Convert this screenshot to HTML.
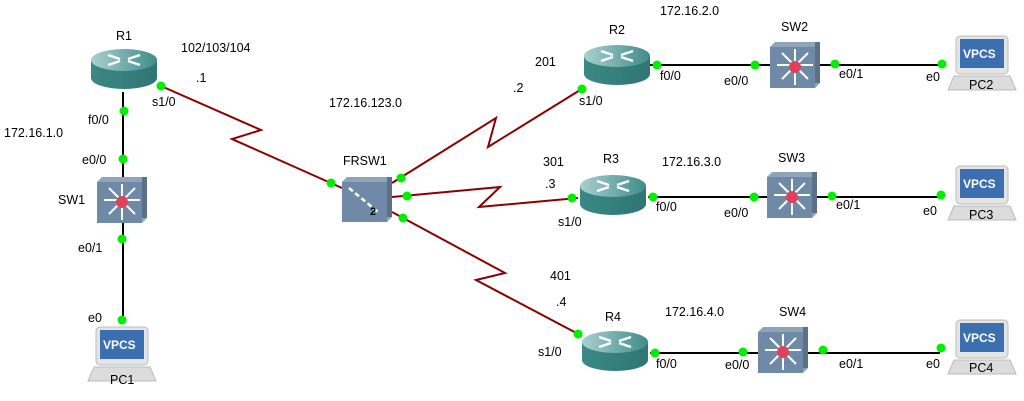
<!DOCTYPE html>
<html><head><meta charset="utf-8"><style>
html,body{margin:0;padding:0;background:#fff;}
svg{display:block;}
text{font-family:"Liberation Sans",sans-serif;font-size:12.5px;fill:#000;}
</style></head><body>
<svg width="1024" height="401" viewBox="0 0 1024 401" xmlns="http://www.w3.org/2000/svg">
<defs>
<linearGradient id="rt" x1="0" y1="0" x2="1" y2="0"><stop offset="0" stop-color="#a9d0cf"/><stop offset="1" stop-color="#3f8c89"/></linearGradient>
<linearGradient id="rb" x1="0" y1="0" x2="1" y2="0"><stop offset="0" stop-color="#3b8885"/><stop offset="1" stop-color="#2f7573"/></linearGradient>
<g id="router">
<path d="M-33,-8 L-33,10 A33,11 0 0 0 33,10 L33,-8 Z" fill="url(#rb)"/>
<ellipse cx="0" cy="-8" rx="33" ry="11" fill="url(#rt)"/>
<g stroke="#fff" stroke-width="2.5" fill="none"><path d="M-16,-13 L-4,-9 M16,-3 L4,-7 M16,-13 L4,-9 M-16,-3 L-4,-7"/></g>
</g>
<g id="switch">
<path d="M-25,-18 L-20,-23 L25,-23 L25,18 L20,23 Z" fill="#8fa4b8"/>
<rect x="-25" y="-18" width="45" height="41" fill="#6f8aa6"/>
<rect x="20" y="-23" width="5" height="41" fill="#5a7189"/>
<g stroke="#fff" stroke-width="2"><path d="M-18,0 H18 M0,-16 V20 M-13,-12 L13,14 M13,-12 L-13,14"/></g>
<circle cx="0" cy="2" r="6" fill="#e0405a"/>
</g>
<g id="pc">
<rect x="-28" y="-28" width="52" height="38" rx="4" fill="#e4e4e4" stroke="#bbb"/>
<rect x="-24" y="-25" width="44" height="29" fill="#3b6fb0"/>
<text x="-21" y="-6" style="fill:#fff;font-weight:bold;font-size:12px">VPCS</text>
<path d="M-30,12 L26,12 L32,26 L-36,26 Z" fill="#dcdcdc" stroke="#bbb"/>
</g>
</defs>
<!-- links -->
<g stroke="#000" stroke-width="2" fill="none">
<path d="M123,92 V320"/>
<path d="M650,65 H940"/>
<path d="M648,197 H940"/>
<path d="M650,353 H940"/>
</g>
<g stroke="#8b0000" stroke-width="2" fill="none">
<path d="M161,86 L261,130 L232,139 L342,188"/>
<path d="M392,183 L496,118 L488,147 L585,87"/>
<path d="M392,197 L500,187 L479,207 L578,198"/>
<path d="M392,212 L505,273 L476,280 L582,336"/>
</g>
<!-- devices -->
<use href="#router" x="124" y="68"/>
<use href="#router" x="617" y="64"/>
<use href="#router" x="613" y="194"/>
<use href="#router" x="615" y="350"/>
<use href="#switch" x="122" y="200"/>
<use href="#switch" x="795" y="65"/>
<use href="#switch" x="792" y="195"/>
<use href="#switch" x="783" y="350"/>
<use href="#pc" x="124" y="355"/>
<use href="#pc" x="984" y="64"/>
<use href="#pc" x="984" y="194"/>
<use href="#pc" x="984" y="348"/>
<!-- FRSW -->
<path d="M342,182 L347,177 L392,177 L392,217 L387,222 Z" fill="#8fa4b8"/>
<rect x="342" y="182" width="45" height="40" fill="#6f8aa6"/>
<rect x="387" y="177" width="5" height="40" fill="#5a7189"/>
<path d="M349,188 L378,212" stroke="#fff" stroke-width="2.5" stroke-dasharray="5,3"/>
<text x="370" y="215" style="font-weight:bold;font-size:11px">2</text>
<!-- dots -->
<g fill="#00ee00">
<circle cx="161" cy="86" r="4.5"/><circle cx="124" cy="111" r="4.5"/><circle cx="123" cy="159" r="4.5"/><circle cx="122" cy="239" r="4.5"/><circle cx="122" cy="320" r="4.5"/>
<circle cx="331" cy="183" r="4.5"/><circle cx="401" cy="178" r="4.5"/><circle cx="407" cy="196" r="4.5"/><circle cx="403" cy="218" r="4.5"/>
<circle cx="582" cy="89" r="4.5"/><circle cx="657" cy="65" r="4.5"/><circle cx="755" cy="65" r="4.5"/><circle cx="835" cy="64" r="4.5"/><circle cx="942" cy="64" r="4.5"/>
<circle cx="572" cy="198" r="4.5"/><circle cx="653" cy="197" r="4.5"/><circle cx="754" cy="197" r="4.5"/><circle cx="832" cy="196" r="4.5"/><circle cx="941" cy="195" r="4.5"/>
<circle cx="578" cy="334" r="4.5"/><circle cx="655" cy="353" r="4.5"/><circle cx="743" cy="352" r="4.5"/><circle cx="823" cy="350" r="4.5"/><circle cx="941" cy="348" r="4.5"/>
</g>
<!-- labels -->
<text x="116" y="40">R1</text>
<text x="181" y="52">102/103/104</text>
<text x="196" y="82">.1</text>
<text x="152" y="106">s1/0</text>
<text x="88" y="124">f0/0</text>
<text x="4" y="137">172.16.1.0</text>
<text x="82" y="164">e0/0</text>
<text x="58" y="204">SW1</text>
<text x="78" y="252">e0/1</text>
<text x="88" y="322">e0</text>
<text x="110" y="384">PC1</text>
<text x="329" y="107">172.16.123.0</text>
<text x="343" y="165">FRSW1</text>
<text x="535" y="66">201</text>
<text x="513" y="92">.2</text>
<text x="579" y="105">s1/0</text>
<text x="609" y="34">R2</text>
<text x="660" y="15">172.16.2.0</text>
<text x="660" y="80">f0/0</text>
<text x="724" y="85">e0/0</text>
<text x="781" y="31">SW2</text>
<text x="839" y="78">e0/1</text>
<text x="926" y="81">e0</text>
<text x="969" y="89">PC2</text>
<text x="543" y="166">301</text>
<text x="545" y="188">.3</text>
<text x="558" y="226">s1/0</text>
<text x="603" y="163">R3</text>
<text x="662" y="166">172.16.3.0</text>
<text x="656" y="211">f0/0</text>
<text x="724" y="217">e0/0</text>
<text x="778" y="162">SW3</text>
<text x="836" y="209">e0/1</text>
<text x="923" y="215">e0</text>
<text x="969" y="219">PC3</text>
<text x="550" y="280">401</text>
<text x="556" y="306">.4</text>
<text x="538" y="356">s1/0</text>
<text x="605" y="321">R4</text>
<text x="665" y="316">172.16.4.0</text>
<text x="656" y="368">f0/0</text>
<text x="725" y="369">e0/0</text>
<text x="779" y="316">SW4</text>
<text x="839" y="368">e0/1</text>
<text x="926" y="368">e0</text>
<text x="969" y="372">PC4</text>
</svg>
</body></html>
